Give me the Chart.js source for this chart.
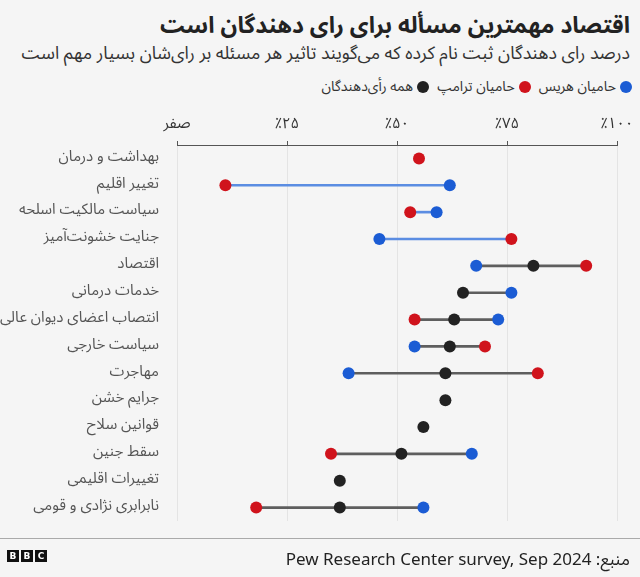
<!DOCTYPE html>
<html lang="fa">
<head>
<meta charset="utf-8">
<script src="https://cdn.jsdelivr.net/npm/chart.js@4"></script>
<style>
  html,body{margin:0;padding:0;}
  body{width:640px;height:577px;background:#f5f5f5;position:relative;overflow:hidden;
    font-family:'Noto Sans Arabic','DejaVu Sans',sans-serif;color:#222;}
  .rtl{direction:rtl;position:absolute;right:10px;white-space:nowrap;}
  #title{top:1px;font-size:23px;font-weight:bold;}
  #sub{top:35px;font-size:17.8px;color:#333;}
  #legend{top:72px;right:8px;font-size:14px;color:#333;display:flex;gap:8px;}
  #legend span{display:flex;align-items:center;gap:4px;}
  #legend i{display:inline-block;width:12px;height:12px;border-radius:50%;}
  #wrap{position:absolute;left:0;top:98px;width:640px;height:450px;}
  #foot{position:absolute;left:0;right:0;top:538px;border-top:1px solid #aaa;}
  #src{top:542px;font-size:17px;color:#222;}
  #bbc{position:absolute;left:7px;top:550px;display:flex;gap:2px;}
  #bbc b{width:12px;height:12px;background:#111;color:#fff;font:bold 9px 'DejaVu Sans',sans-serif;
    display:flex;align-items:center;justify-content:center;}
</style>
</head>
<body>
<div id="title" class="rtl">اقتصاد مهمترین مسأله برای رای دهندگان است</div>
<div id="sub" class="rtl">درصد رای دهندگان ثبت نام کرده که می‌گویند تاثیر هر مسئله بر رای‌شان بسیار مهم است</div>
<div id="legend" class="rtl"></div>
<div id="wrap"><canvas id="c"></canvas></div>
<div id="foot"></div>
<div id="src" class="rtl">منبع: Pew Research Center survey, Sep 2024</div>
<div id="bbc"><b>B</b><b>B</b><b>C</b></div>
<script>
const categories = ['بهداشت و درمان','تغییر اقلیم','سیاست مالکیت اسلحه','جنایت خشونت‌آمیز','اقتصاد','خدمات درمانی',
  'انتصاب اعضای دیوان عالی','سیاست خارجی','مهاجرت','جرایم خشن','قوانین سلاح','سقط جنین','تغییرات اقلیمی','نابرابری نژادی و قومی'];
const harris    = [null, 62, 59, 46, 68, 76, 73, 54, 39, null, null, 67, null, 56];
const trump     = [55, 11, 53, 76, 93, null, 54, 70, 82, null, null, 35, null, 18];
const allVoters = [null, null, null, null, 81, 65, 63, 62, 61, 61, 56, 51, 37, 37];
const tickValues = [0, 25, 50, 75, 100];
const tickLabels = ['صفر', '٪۲۵', '٪۵۰', '٪۷۵', '٪۱۰۰'];

const BLUE = '#1b5cd4', RED = '#d0131c', BLACK = '#222222';
const series = [
  {label:'حامیان هریس', data:harris, color:BLUE},
  {label:'حامیان ترامپ', data:trump, color:RED},
  {label:'همه رأی‌دهندگان', data:allVoters, color:BLACK}
];

// legend
const lg = document.getElementById('legend');
series.forEach(s => {
  const sp = document.createElement('span');
  sp.innerHTML = `<i style="background:${s.color}"></i>${s.label}`;
  lg.appendChild(sp);
});

// connector range per row from the plotted values
const ranges = categories.map((c, i) => {
  const v = [harris[i], trump[i], allVoters[i]].filter(x => x != null);
  return v.length > 1 ? [Math.min(...v), Math.max(...v)] : null;
});
const rangeColors = categories.map((c, i) => allVoters[i] == null ? '#5b8de2' : '#5e5e5e');

const FONT = "'Noto Sans Arabic','DejaVu Sans',sans-serif";
Chart.defaults.font.family = FONT;

new Chart(document.getElementById('c'), {
  type: 'bar',
  data: {
    labels: categories,
    datasets: [
      {type:'bar', data:ranges, backgroundColor:rangeColors, barThickness:2, borderSkipped:false, order:10},
      ...series.map(s => ({
        type:'line', label:s.label, showLine:false, order:1,
        data: s.data.map((v, i) => v == null ? null : {x:v, y:categories[i]}).filter(Boolean),
        pointRadius:6, pointHoverRadius:6, pointBorderWidth:0,
        pointBackgroundColor:s.color, borderColor:s.color
      }))
    ]
  },
  options: {
    indexAxis: 'y',
    responsive: true, maintainAspectRatio: false, animation: false,
    layout: {padding: {top: 13, right: 23, bottom: 5, left: 0}},
    plugins: {legend: {display: false}, tooltip: {enabled: false}},
    scales: {
      x: {
        type: 'linear', position: 'top', min: 0, max: 100,
        afterBuildTicks: s => { s.ticks = tickValues.map(v => ({value: v})); },
        ticks: {callback: v => tickLabels[tickValues.indexOf(v)], color: '#333', font: {size: 15}, padding: 6, maxRotation: 0},
        grid: {color: '#e4e4e4', tickColor: '#555', tickLength: 4},
        border: {color: '#555', width: 1}
      },
      y: {
        type: 'category', offset: true,
        afterFit: s => { s.width = 177; },
        ticks: {color: '#555', font: {size: 15}, padding: 18},
        grid: {display: false, drawTicks: false},
        border: {display: false}
      }
    }
  }
});
</script>
</body>
</html>
